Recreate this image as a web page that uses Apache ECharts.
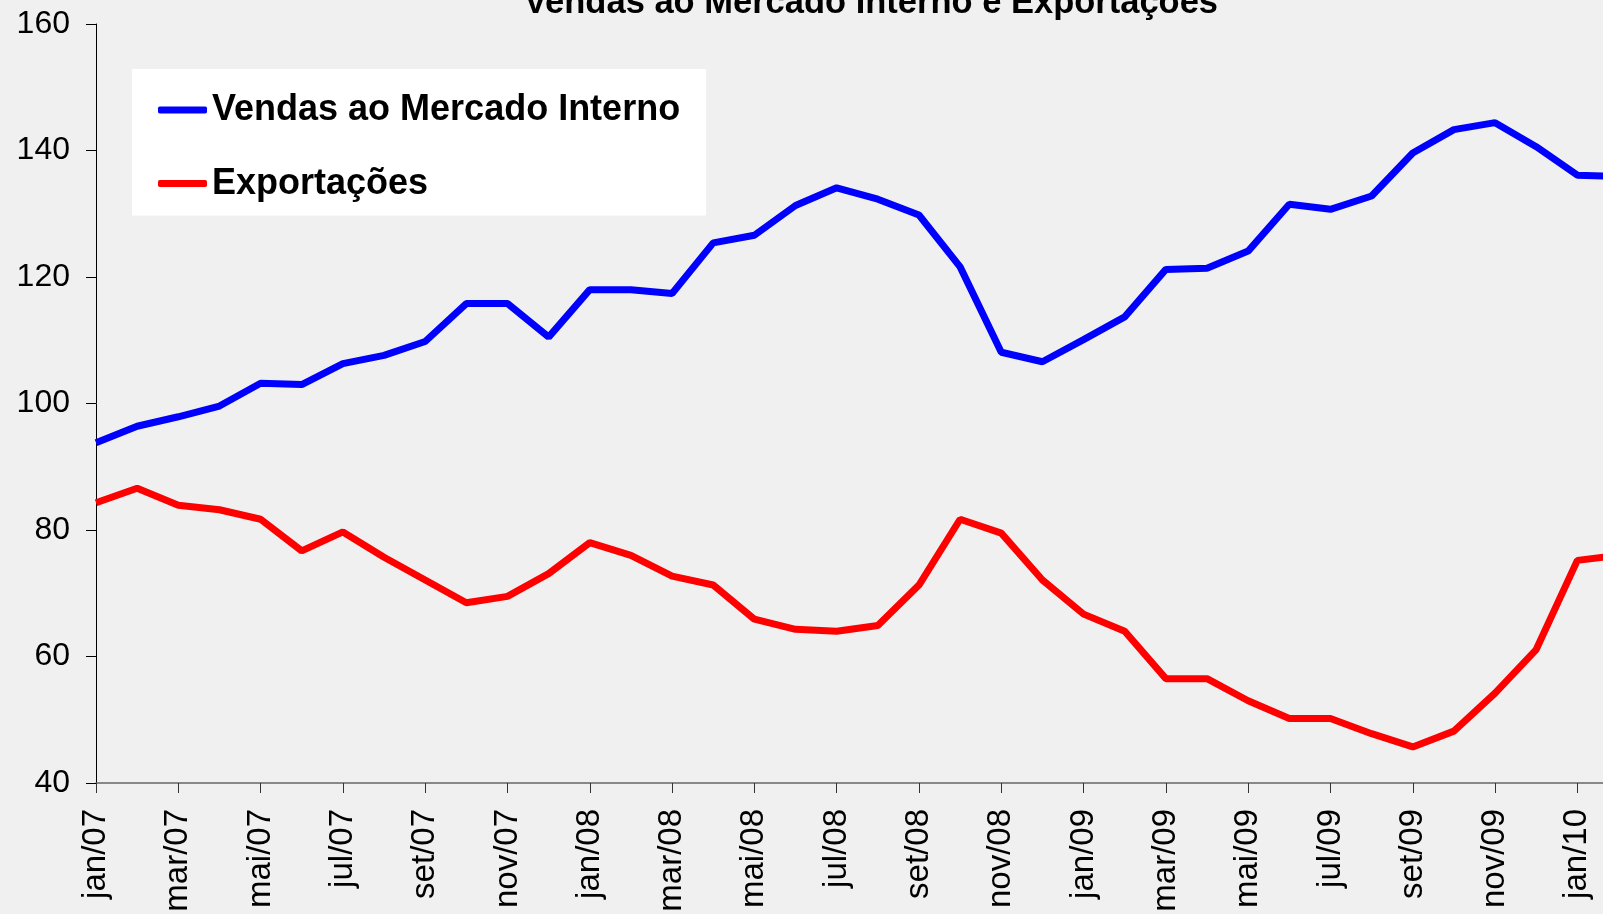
<!DOCTYPE html>
<html>
<head>
<meta charset="utf-8">
<script src="https://cdn.jsdelivr.net/npm/echarts@6/dist/echarts.min.js"></script>
<style>
  html, body { margin: 0; padding: 0; background: #f0f0f0; }
  #chart { width: 1603px; height: 914px; }
</style>
</head>
<body>
<div id="chart"></div>
<script>
// meses (jan/07 .. fev/10)
var months = [
  'jan/07','fev/07','mar/07','abr/07','mai/07','jun/07','jul/07','ago/07','set/07','out/07','nov/07','dez/07',
  'jan/08','fev/08','mar/08','abr/08','mai/08','jun/08','jul/08','ago/08','set/08','out/08','nov/08','dez/08',
  'jan/09','fev/09','mar/09','abr/09','mai/09','jun/09','jul/09','ago/09','set/09','out/09','nov/09','dez/09',
  'jan/10','fev/10'
];

var mercadoInterno = [
  93.8, 96.4, 97.9, 99.6, 103.2, 103.0, 106.3, 107.6, 109.8, 115.8, 115.8, 110.5,
  118.0, 118.0, 117.4, 125.4, 126.6, 131.3, 134.1, 132.3, 129.8, 121.6, 108.1, 106.6,
  110.1, 113.7, 121.2, 121.4, 124.1, 131.5, 130.7, 132.8, 139.6, 143.3, 144.4, 140.6,
  136.1, 135.9
];

var exportacoes = [
  84.3, 86.6, 83.9, 83.2, 81.7, 76.7, 79.7, 75.7, 72.1, 68.5, 69.5, 73.1,
  78.0, 76.0, 72.7, 71.3, 65.9, 64.3, 64.0, 64.9, 71.3, 81.7, 79.5, 72.1,
  66.7, 64.0, 56.5, 56.5, 53.0, 50.2, 50.2, 47.8, 45.7, 48.2, 54.2, 61.1,
  75.2, 76.0
];

var yTicks = { min: 40, max: 160, step: 20 };

var fontFam = '"Liberation Sans", Arial, sans-serif';
var myChart = echarts.init(document.getElementById('chart'));

myChart.setOption({
  backgroundColor: '#f0f0f0',
  animation: false,
  textStyle: { fontFamily: fontFam },
  title: {
    text: 'Vendas ao Mercado Interno e Exportações',
    left: 524,
    top: -14,
    padding: 0,
    textStyle: { fontSize: 34.5, fontWeight: 'bold', color: '#000', fontFamily: fontFam }
  },
  legend: {
    orient: 'vertical',
    left: 132,
    top: 69,
    backgroundColor: '#ffffff',
    padding: [23, 26, 14, 26],
    itemGap: 37.6,
    itemWidth: 49,
    itemHeight: 7,
    icon: 'roundRect',
    textStyle: { fontSize: 36, fontWeight: 'bold', color: '#000', fontFamily: fontFam },
    data: ['Vendas ao Mercado Interno', 'Exportações']
  },
  grid: {
    left: 96,
    right: -15.5,
    top: 24,
    bottom: 131,
    containLabel: false,
    outerBoundsMode: 'none'
  },
  xAxis: {
    type: 'category',
    data: months,
    boundaryGap: false,
    axisLine: { lineStyle: { color: '#666', width: 1.5 } },
    axisTick: { interval: 1, length: 10, lineStyle: { color: '#333' } },
    axisLabel: {
      interval: 1,
      rotate: 90,
      margin: 26,
      fontSize: 33,
      color: '#000',
      fontFamily: fontFam
    },
    splitLine: { show: false }
  },
  yAxis: {
    type: 'value',
    min: yTicks.min,
    max: yTicks.max,
    interval: yTicks.step,
    axisLine: { show: true, lineStyle: { color: '#000', width: 1 } },
    axisTick: { show: true, length: 10, lineStyle: { color: '#000' } },
    axisLabel: { fontSize: 32, color: '#000', margin: 26, fontFamily: fontFam },
    splitLine: { show: false }
  },
  series: [
    {
      name: 'Vendas ao Mercado Interno',
      type: 'line',
      data: mercadoInterno,
      showSymbol: false,
      symbol: 'none',
      color: '#0000ff',
      lineStyle: { width: 7, color: '#0000ff' }
    },
    {
      name: 'Exportações',
      type: 'line',
      data: exportacoes,
      showSymbol: false,
      symbol: 'none',
      color: '#ff0000',
      lineStyle: { width: 7, color: '#ff0000' }
    }
  ]
});
</script>
</body>
</html>
